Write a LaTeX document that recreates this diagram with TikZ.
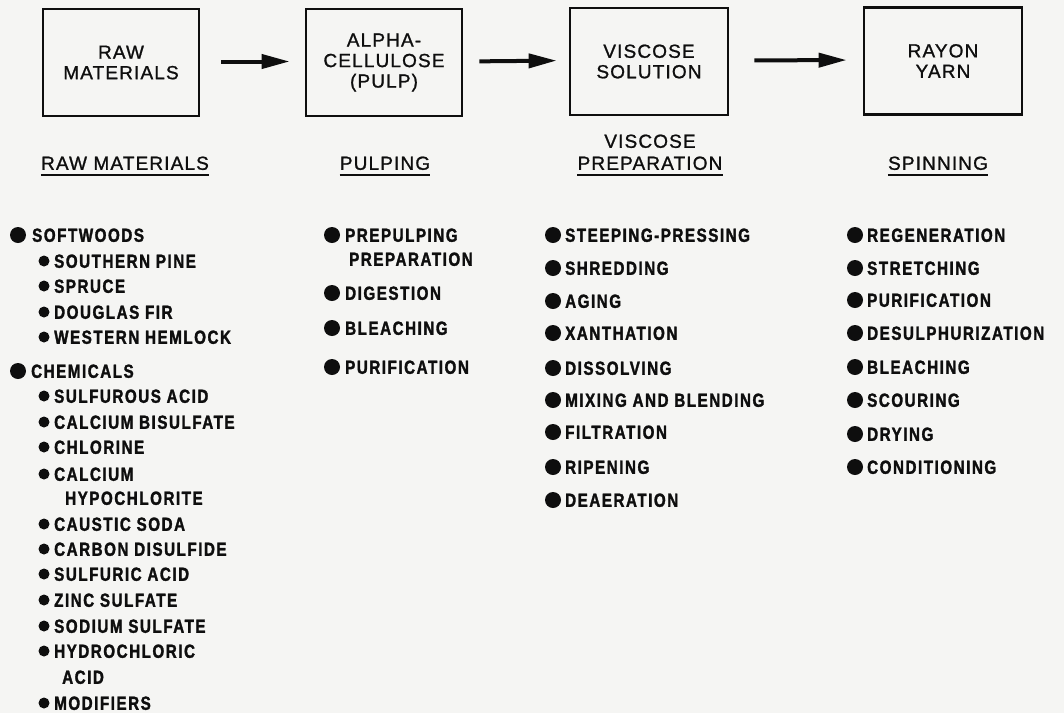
\documentclass[tikz,border=0pt]{standalone}
\usepackage{fontspec}
\usetikzlibrary{arrows.meta}
\setmainfont{Liberation Sans}
\newfontfamily\boxfont{Liberation Sans}[LetterSpace=6,FakeBold=1.1]
\newfontfamily\listfont{Liberation Sans}[FakeStretch=0.8,LetterSpace=8,FakeBold=1.6]
\definecolor{paper}{RGB}{245,245,243}
\definecolor{ink}{RGB}{14,14,14}
\begin{document}
\begin{tikzpicture}[x=1pt,y=-1pt,
  stagebox/.style={draw=ink,line width=2.8pt,minimum width=#1,minimum height=107pt,inner sep=0pt,align=center,text=ink,font=\boxfont\fontsize{19}{20.5}\selectfont},
  flow/.style={draw=ink,line width=4pt,-{Triangle[length=28pt,width=14pt]}},
  heading/.style={inner sep=0pt,text height=13.6pt,text depth=0pt,text=ink,font=\boxfont\fontsize{19}{20.5}\selectfont},
  uline/.style={draw=ink,line width=1.8pt},
  listtxt/.style={anchor=west,inner sep=0pt,text height=13.6pt,text depth=0pt,text=ink,font=\listfont\bfseries\fontsize{19}{20}\selectfont},
  bigdot/.style={circle,fill=ink,inner sep=0pt,minimum size=16pt},
  smalldot/.style={circle,fill=ink,inner sep=0pt,minimum size=11pt}]
\useasboundingbox (0,0) rectangle (1064,713);
\fill[paper] (0,0) rectangle (1064,713);

% stage boxes
\node[stagebox=156pt] (b1) at (121,62.5) {RAW\\MATERIALS};
\node[stagebox=156pt] (b2) at (384,62.5) {ALPHA-\\CELLULOSE\\(PULP)};
\node[stagebox=158pt] (b3) at (649,61.5) {VISCOSE\\SOLUTION};
\node[stagebox=158pt] (b4) at (943,61) {RAYON\\YARN};

\draw[flow,shorten <=21pt,shorten >=15pt] ([yshift=1pt]b1.east) -- ([yshift=1pt]b2.west);
\draw[flow,shorten <=16pt,shorten >=12pt] ([yshift=1pt]b2.east) -- ([yshift=1pt]b3.west);
\draw[flow,shorten <=25pt,shorten >=16pt] ([yshift=1pt]b3.east) -- ([yshift=1pt]b4.west);

% headings
\node[heading] (h1) at (125,163) {RAW MATERIALS};
\node[heading] (h2) at (385,163) {PULPING};
\node[heading] (h3a) at (650,141) {VISCOSE};
\node[heading] (h3) at (650,163) {PREPARATION};
\node[heading] (h4) at (938,163) {SPINNING};
\foreach \h in {h1,h2,h3,h4}
  \draw[uline] ([yshift=-5pt]\h.south west) -- ([yshift=-5pt]\h.south east);

% column 1: raw materials
\node[bigdot] (d1a) at (18,235) {};
\node[listtxt] (t1a) at (32,235) {SOFTWOODS};
\foreach \txt/\yy [count=\i] in {SOUTHERN PINE/261, SPRUCE/286, DOUGLAS FIR/312, WESTERN HEMLOCK/337}{
  \node[smalldot] (sw\i) at (44,\yy) {};
  \node[listtxt] (swt\i) at (54,\yy) {\txt};
}
\node[bigdot] (d1b) at (18,371) {};
\node[listtxt] (t1b) at (31,371) {CHEMICALS};
\foreach \txt/\yy [count=\i] in {SULFUROUS ACID/396, CALCIUM BISULFATE/422, CHLORINE/447, CALCIUM/474, CAUSTIC SODA/524, CARBON DISULFIDE/549, SULFURIC ACID/574, ZINC SULFATE/600, SODIUM SULFATE/626, HYDROCHLORIC/651, MODIFIERS/703}{
  \node[smalldot] (ch\i) at (44,\yy) {};
  \node[listtxt] (cht\i) at (54,\yy) {\txt};
}
\node[listtxt] (cont1) at (65,498) {HYPOCHLORITE};
\node[listtxt] (cont2) at (62,677) {ACID};

% column 2: pulping
\foreach \txt/\yy [count=\i] in {PREPULPING/235, DIGESTION/293, BLEACHING/328, PURIFICATION/367}{
  \node[bigdot] (pd\i) at (332,\yy) {};
  \node[listtxt] (pt\i) at (345,\yy) {\txt};
}
\node[listtxt] (pcont) at (349,259) {PREPARATION};

% column 3: viscose preparation
\foreach \txt/\yy [count=\i] in {STEEPING-PRESSING/235, SHREDDING/268, AGING/301, XANTHATION/333, DISSOLVING/368, MIXING AND BLENDING/400, FILTRATION/432, RIPENING/467, DEAERATION/500}{
  \node[bigdot] (vd\i) at (553,\yy) {};
  \node[listtxt] (vt\i) at (565,\yy) {\txt};
}

% column 4: spinning
\foreach \txt/\yy [count=\i] in {REGENERATION/235, STRETCHING/268, PURIFICATION/300, DESULPHURIZATION/333, BLEACHING/367, SCOURING/400, DRYING/434, CONDITIONING/467}{
  \node[bigdot] (sd\i) at (855,\yy) {};
  \node[listtxt] (st\i) at (867,\yy) {\txt};
}
\end{tikzpicture}
\end{document}
